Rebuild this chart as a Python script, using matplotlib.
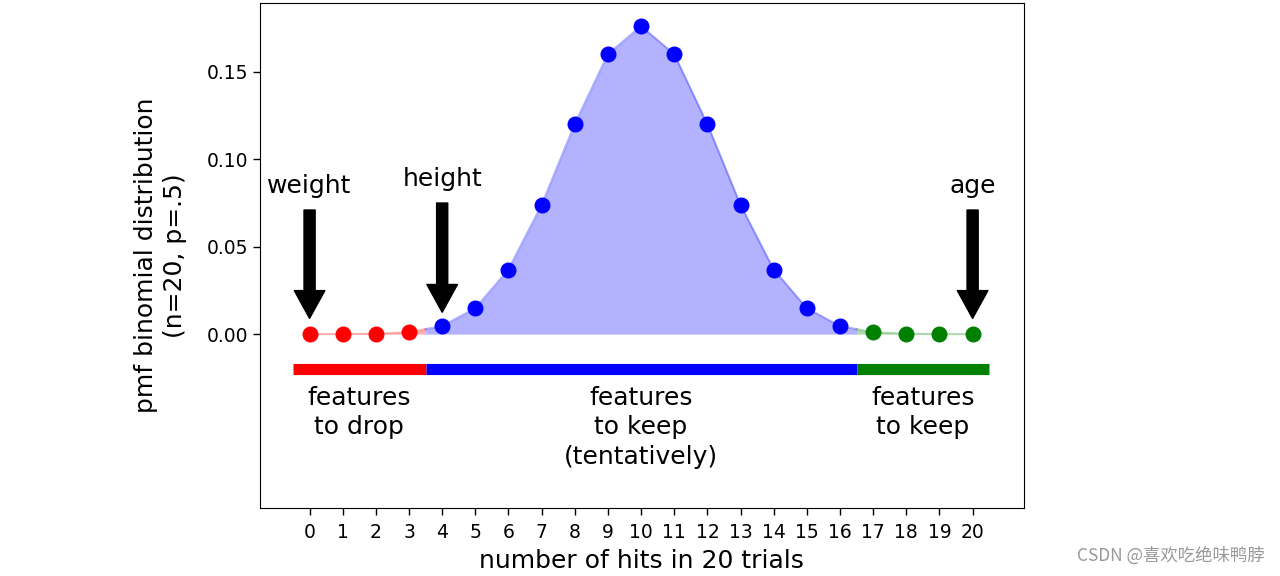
import numpy as np
import matplotlib
matplotlib.use("Agg")
import matplotlib.pyplot as plt

# data
hits = list(range(21))
pmf = [9.5e-07, 1.9e-05, 1.81e-04, 1.087e-03, 4.621e-03, 1.479e-02, 3.696e-02,
       7.393e-02, 1.2013e-01, 1.6018e-01, 1.7620e-01, 1.6018e-01, 1.2013e-01,
       7.393e-02, 3.696e-02, 1.479e-02, 4.621e-03, 1.087e-03, 1.81e-04, 1.9e-05, 9.5e-07]
drop_idx = [0, 1, 2, 3]
tent_idx = list(range(4, 17))
keep_idx = [17, 18, 19, 20]
arrow_labels = ["weight", "height", "age"]
arrow_x = [0, 4, 20]
group_texts = ["features\nto drop", "features\nto keep\n(tentatively)", "features\nto keep"]
group_bounds = [(-0.5, 3.5), (3.5, 16.5), (16.5, 20.5)]
group_colors = ["red", "blue", "green"]

fig = plt.figure(figsize=(12.8, 5.76), dpi=100)
ax = fig.add_axes([0.203, 0.118, 0.597, 0.877])

x = np.array(hits, dtype=float)
y = np.array(pmf)

def mid(i, j):
    return (x[i] + x[j]) / 2, (y[i] + y[j]) / 2

m1 = mid(3, 4)
m2 = mid(16, 17)
segs = [
    (np.r_[x[drop_idx], m1[0]], np.r_[y[drop_idx], m1[1]], drop_idx, "red"),
    (np.r_[m1[0], x[tent_idx], m2[0]], np.r_[m1[1], y[tent_idx], m2[1]], tent_idx, "blue"),
    (np.r_[m2[0], x[keep_idx]], np.r_[m2[1], y[keep_idx]], keep_idx, "green"),
]
for sx, sy, idx, c in segs:
    ax.fill_between(sx, 0, sy, color=c, alpha=0.3, linewidth=0)
    ax.plot(sx, sy, color=c, alpha=0.3, linewidth=1.5)
    ax.plot(x[idx], y[idx], "o", color=c, markersize=10.5)

# group bars and texts
for (a, b), c, t in zip(group_bounds, group_colors, group_texts):
    ax.plot([a, b], [-0.02, -0.02], color=c, linewidth=8, solid_capstyle="butt")
    ax.text((a + b) / 2, -0.0295, t, ha="center", va="top", fontsize=18, linespacing=1.3)

# arrows
tails = [0.071, 0.075, 0.071]
tips = [0.0090, 0.0125, 0.0090]
text_y = [0.0845, 0.089, 0.0845]
for lab, xa, ty, tp, tt in zip(arrow_labels, arrow_x, tails, tips, text_y):
    ax.annotate("", xy=(xa, tp), xytext=(xa, ty),
                arrowprops=dict(facecolor="black", edgecolor="black", width=8,
                                headwidth=22, headlength=20, shrink=0))
    ax.text(xa, tt, lab, ha="center", va="center", fontsize=18)

ax.set_xlim(-1.5, 21.55)
ax.set_ylim(-0.0995, 0.1895)
ax.set_xticks(hits)
ax.set_yticks([0, 0.05, 0.10, 0.15])
ax.set_yticklabels(["0.00", "0.05", "0.10", "0.15"])
ax.tick_params(labelsize=13.5, length=5, width=1)
ax.tick_params(axis="x", pad=6)
ax.set_xlabel("number of hits in 20 trials", fontsize=18, labelpad=5)
ax.set_ylabel("pmf binomial distribution\n(n=20, p=.5)", fontsize=18, linespacing=1.25,
              labelpad=14)

fig.text(0.988, 0.035, "CSDN @喜欢吃绝味鸭脖", ha="right", va="center", fontsize=12.5,
         color="#999999", family=["Noto Sans CJK SC", "DejaVu Sans"])

fig.savefig("out.png", dpi=100)
